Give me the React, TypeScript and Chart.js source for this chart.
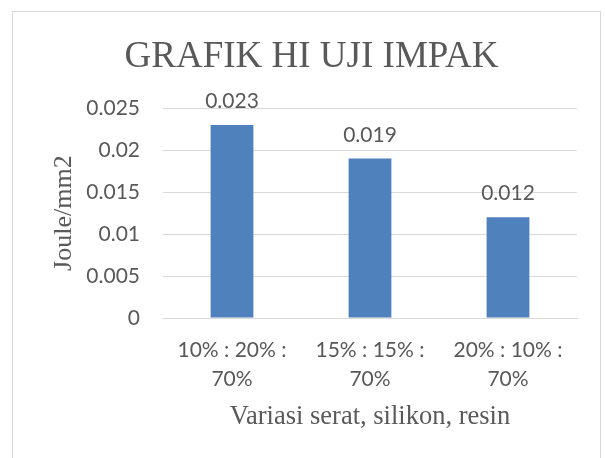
import React, { useEffect, useRef } from "react";
import { Chart, registerables } from "chart.js";

Chart.register(...registerables);

const categories: string[][] = [
  ["10% : 20% :", "70%"],
  ["15% : 15% :", "70%"],
  ["20% : 10% :", "70%"],
];
const values: number[] = [0.023, 0.019, 0.012];
const valueLabels: string[] = ["0.023", "0.019", "0.012"];
const yTickLabels: Record<string, string> = {
  "0": "0",
  "0.005": "0.005",
  "0.01": "0.01",
  "0.015": "0.015",
  "0.02": "0.02",
  "0.025": "0.025",
};
const titleText = "GRAFIK HI UJI IMPAK";
const yTitle = "Joule/mm2";
const xTitle = "Variasi serat, silikon, resin";

const TEXT = "#595959";
const GRID = "#D9D9D9";
const BAR = "#4F81BD";
const SANS = "Lato";
const SERIF = "'Liberation Serif', 'Times New Roman', serif";
const PAD_LEFT = 46;

const valueLabelPlugin = {
  id: "valueLabels",
  afterDatasetsDraw(chart: any) {
    const ctx = chart.ctx;
    const meta = chart.getDatasetMeta(0);
    ctx.save();
    ctx.fillStyle = TEXT;
    ctx.font = `21px ${SANS}`;
    ctx.textAlign = "center";
    ctx.textBaseline = "alphabetic";
    meta.data.forEach((bar: any, i: number) => {
      ctx.fillText(valueLabels[i], bar.x, bar.y - 17);
    });
    ctx.restore();
  },
};

export default function App() {
  const ref = useRef<HTMLCanvasElement | null>(null);
  useEffect(() => {
    if (!ref.current) return;
    const chart = new Chart(ref.current, {
      type: "bar",
      data: {
        labels: categories,
        datasets: [
          {
            data: values,
            backgroundColor: BAR,
            borderWidth: 0,
            categoryPercentage: 1,
            barPercentage: 0.31,
          },
        ],
      },
      options: {
        responsive: false,
        animation: false,
        layout: { padding: { left: PAD_LEFT, right: 28, top: 0, bottom: 0 } },
        plugins: {
          legend: { display: false },
          tooltip: { enabled: false },
          title: {
            display: true,
            text: titleText,
            color: TEXT,
            font: { family: SERIF, size: 37, weight: "normal", lineHeight: 1.2 },
            padding: { top: 35, bottom: 28.8 },
          },
        },
        scales: {
          x: {
            grid: { display: false, drawTicks: false },
            border: { display: true, color: GRID, width: 1 },
            ticks: {
              color: TEXT,
              font: { family: SANS, size: 21, lineHeight: 1.38 },
              padding: 17.5,
              maxRotation: 0,
              autoSkip: false,
            },
            title: {
              display: true,
              text: xTitle,
              color: TEXT,
              font: { family: SERIF, size: 26.5, lineHeight: 1.2 },
              padding: { top: 7, bottom: 25.5 },
            },
            afterFit: (s: any) => {
              s.height = 140;
            },
          },
          y: {
            min: 0,
            max: 0.025,
            grid: { color: GRID, lineWidth: 1, drawTicks: false },
            border: { display: false },
            ticks: {
              stepSize: 0.005,
              color: TEXT,
              font: { family: SANS, size: 21 },
              padding: 23,
              callback: (v: any) => {
                const k = String(Math.round(Number(v) * 1000) / 1000);
                return yTickLabels[k] ?? k;
              },
            },
            title: {
              display: true,
              text: yTitle,
              color: TEXT,
              font: { family: SERIF, size: 26, lineHeight: 1.2 },
              padding: { top: 2.5, bottom: 0 },
            },
            afterFit: (s: any) => {
              s.width = 163 - PAD_LEFT;
            },
          },
        },
      },
      plugins: [valueLabelPlugin],
    });
    return () => chart.destroy();
  }, []);

  return (
    <div style={{ position: "fixed", left: 0, top: 0, width: 605, height: 458, background: "#fff", overflow: "hidden" }}>
      <div
        style={{
          position: "absolute",
          left: 12,
          top: 11,
          width: 589,
          height: 470,
          border: `1px solid ${GRID}`,
          boxSizing: "border-box",
        }}
      />
      <canvas ref={ref} width={605} height={458} style={{ position: "absolute", left: 0, top: 0 }} />
    </div>
  );
}
